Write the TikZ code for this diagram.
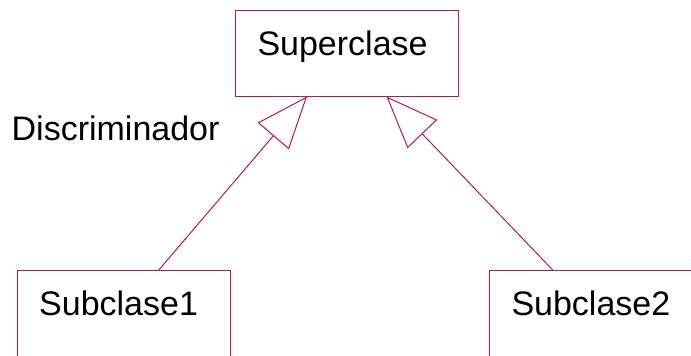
\documentclass[tikz,border=0pt]{standalone}
\usepackage{fontspec}
\setmainfont{Liberation Sans}
\usetikzlibrary{arrows.meta,calc}
\definecolor{umlred}{RGB}{176,28,78}

\begin{document}
\begin{tikzpicture}[x=1pt,y=-1pt,
  classbox/.style={draw=umlred,line width=1pt,anchor=north west,align=left,
    inner xsep=22pt,inner ysep=0pt,text height=45pt,text depth=41pt,
    font=\fontsize{34}{40}\selectfont},
  inherit/.style={draw=umlred,line width=1pt,-{Triangle[open,length=52pt,width=41pt]}}]
\useasboundingbox (0,0) rectangle (691,356);
\clip (0,0) rectangle (691,356);
\node[classbox,text width=178.7pt] (super) at (235,9.5) {Superclase};
\node[classbox,text width=169.3pt] (sub1) at (16.7,270.3) {Subclase1};
\node[classbox,text width=186pt] (sub2) at (489,270.3) {Subclase2};
\node[font=\fontsize{34}{40}\selectfont,anchor=base west,inner sep=0pt] (discr) at (11.5,140) {Discriminador};
\coordinate (tip1) at ($(super.south west)!0.322!(super.south east)$);
\coordinate (tip2) at ($(super.south west)!0.677!(super.south east)$);
\coordinate (foot1) at ($(sub1.north west)!0.662!(sub1.north east)$);
\coordinate (foot2) at ($(sub2.north west)+(64,0)$);
\draw[inherit] (foot1) -- (tip1);
\draw[inherit] (foot2) -- (tip2);
\end{tikzpicture}
\end{document}
